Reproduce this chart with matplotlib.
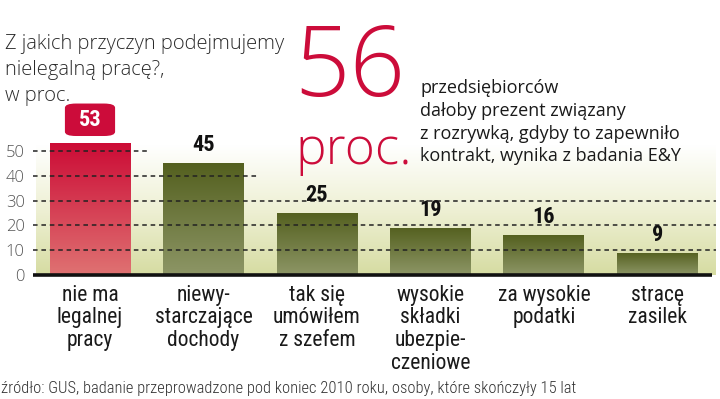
import numpy as np
import matplotlib
matplotlib.use("Agg")
import matplotlib.pyplot as plt
from matplotlib.colors import LinearSegmentedColormap

categories = ["nie ma\nlegalnej\npracy", "niewy-\nstarczające\ndochody",
              "tak się\numówiłem\nz szefem", "wysokie\nskładki\nubezpie-\nczeniowe",
              "za wysokie\npodatki", "stracę\nzasilek"]
values = [53, 45, 25, 19, 16, 9]
yticks = [0, 10, 20, 30, 40, 50]

title = "Z jakich przyczyn podejmujemy\nnielegalną pracę?,\nw proc."
big_number = "56"
big_unit = "proc."
side_note = ("przedsiębiorców\ndałoby prezent związany\n"
             "z rozrywką, gdyby to zapewniło\nkontrakt, wynika z badania E&Y")
source = "źródło: GUS, badanie przeprowadzone pod koniec 2010 roku, osoby, które skończyły 15 lat"

RED = "#cc0c3a"
OS = ["Open Sans", "DejaVu Sans"]
COND = ["Roboto Condensed", "Open Sans", "DejaVu Sans"]

W, H = 720, 399
fig = plt.figure(figsize=(W / 100, H / 100), dpi=100)
fig.patch.set_facecolor("white")

# axes placed in pixel coords: left 33, right 716, baseline 275, top 126
ax = fig.add_axes([33 / W, (H - 275) / H, (716 - 33) / W, (275 - 126) / H])
x = np.arange(len(values))
pitch = 113.5
xl = (33 - 90) / pitch
xr = (716 - 90) / pitch
ax.set_facecolor("none")
for s in ax.spines.values():
    s.set_visible(False)

# background gradient
bg = LinearSegmentedColormap.from_list("bg", ["#d6dca2", "#eef0d4", "#ffffff"])
grad = np.linspace(0, 1, 256).reshape(-1, 1)
ax.imshow(grad, extent=[(36 - 90) / pitch, xr, 0, 52], origin="lower",
          aspect="auto", cmap=bg, zorder=0)

# bars with vertical gradients
bars = ax.bar(x, values, width=81 / pitch, color="none", zorder=2)
red_cm = LinearSegmentedColormap.from_list("r", ["#df7272", "#cc0c36"])
olive_cm = LinearSegmentedColormap.from_list("o", ["#8d9666", "#54601f"])
for i, b in enumerate(bars):
    cm = red_cm if i == 0 else olive_cm
    im = ax.imshow(grad, extent=[b.get_x(), b.get_x() + b.get_width(), 0, b.get_height()],
                   origin="lower", aspect="auto", cmap=cm, zorder=2)
    im.set_clip_path(b)

ax.set_xlim(xl, xr)
ax.set_ylim(0, 60)

# dashed grid lines
grid_end = {10: xr, 20: xr, 30: xr, 40: (257 - 90) / pitch, 50: (148 - 90) / pitch}
for t in yticks[1:]:
    ax.plot([xl, grid_end[t]], [t, t], color="#222222", lw=1.1,
            dashes=(3, 2.5), zorder=3)
ax.plot([xl, (712 - 90) / pitch], [0, 0], color="#111111", lw=2.6, zorder=4,
        solid_capstyle="butt", clip_on=False)

ax.set_xticks([])
ax.set_yticks(yticks)
ax.set_yticklabels([str(t) for t in yticks], family=OS, fontweight=300,
                   fontsize=12, color="#555555")
ax.tick_params(axis="y", length=0, pad=6)

# value labels
for i, v in enumerate(values):
    if i == 0:
        ax.annotate(str(v), (x[i], v), xytext=(0, 17), textcoords="offset points",
                    ha="center", va="center", fontsize=16, fontweight="bold",
                    family=COND, color="white",
                    bbox=dict(boxstyle="round,pad=0.62,rounding_size=0.5",
                              mutation_aspect=0.38, fc=RED, ec="none"))
    else:
        ax.annotate(str(v), (x[i], v), xytext=(0, 5), textcoords="offset points",
                    ha="center", va="bottom", fontsize=16, fontweight="bold",
                    family=COND, color="#111111")

# category labels
for i, c in enumerate(categories):
    ax.annotate(c, (x[i], 0), xytext=(0, -7), textcoords="offset points",
                ha="center", va="top", fontsize=15.5, family=COND,
                color="#1a1a1a", linespacing=1.1)

fig.text(5 / W, 1 - 34 / H, title, ha="left", va="top", fontsize=14.5,
         family=OS, fontweight=300, color="#2a2a2a", linespacing=1.4)
fig.text(294 / W, 1 - 96 / H, big_number, ha="left", va="baseline", fontsize=70,
         family=OS, fontweight=300, color=RED)
fig.text(295 / W, 1 - 164 / H, big_unit, ha="left", va="baseline", fontsize=37,
         family=OS, fontweight=300, color=RED)
fig.text(420 / W, 1 - 79 / H, side_note, ha="left", va="top", fontsize=13,
         family=OS, color="#1a1a1a", linespacing=1.34)
fig.text(1 / W, 1 - 388 / H, source, ha="left", va="center", fontsize=11.9,
         family=COND, fontweight=300, color="#333333")

fig.savefig("out.png", dpi=100)
